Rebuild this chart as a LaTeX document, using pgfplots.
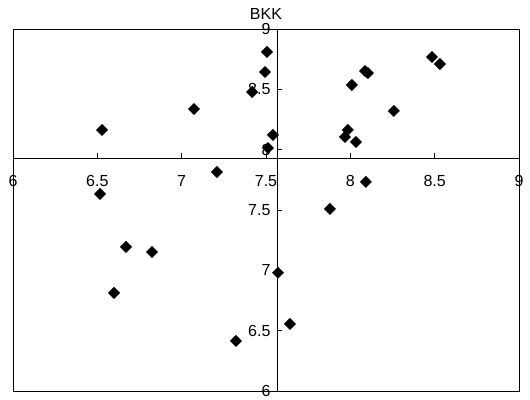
\documentclass[border=0pt]{standalone}
\usepackage{pgfplots}
\usepackage{pgfplotstable}
\pgfplotsset{compat=1.18}
\usepackage{fontspec}
\setmainfont{Liberation Sans}
\pgfplotstableread{
x y
6.528 8.163
7.073 8.337
7.418 8.478
7.494 8.644
7.506 8.810
7.541 8.122
7.512 8.014
7.209 7.815
6.516 7.633
8.009 8.536
8.087 8.652
8.104 8.635
8.484 8.768
8.531 8.710
8.258 8.321
7.985 8.163
7.968 8.105
8.033 8.064
8.092 7.733
7.879 7.509
6.670 7.194
6.824 7.152
6.599 6.813
7.571 6.980
7.642 6.556
7.322 6.415
}\datatable
\begin{document}
\begin{tikzpicture}
\begin{axis}[
  scale only axis, width=506pt, height=362pt,
  axis lines=middle, axis line style={-, line width=0.8pt},
  xmin=-1.565, xmax=1.435, ymin=-1.93, ymax=1.07,
  xtick={-1.565,-1.065,-0.565,-0.065,0.435,0.935,1.435},
  xticklabels={6,6.5,7,7.5,8,8.5,9},
  ytick={-1.93,-1.43,-0.93,-0.43,0.07,0.57,1.07},
  yticklabels={6,6.5,7,7.5,8,8.5,9},
  tick align=inside, major tick length=5pt,
  tick style={black, line width=0.6pt},
  ticklabel style={font=\fontsize{16}{18}\selectfont},
  xticklabel style={anchor=north, yshift=-14pt},
  yticklabel style={anchor=east, xshift=-3pt},
  clip=false,
]
\addplot[only marks, mark=square*, mark size=4pt, mark options={rotate=45, fill=black, draw=black}]
  table[x expr=\thisrow{x}-7.565, y expr=\thisrow{y}-7.93] {\datatable};
\draw[line width=0.8pt] (rel axis cs:0,0) rectangle (rel axis cs:1,1);
\coordinate (sw) at (rel axis cs:0,0);
\coordinate (ne) at (rel axis cs:1,1);
\node[anchor=south, font=\fontsize{16}{18}\selectfont, inner sep=0pt] at ([yshift=9pt]rel axis cs:0.5,1) {BKK};
\end{axis}
\pgfresetboundingbox
\path (sw) ++(-13pt,-8pt) coordinate (a);
\path (ne) ++(11pt,29pt) coordinate (b);
\useasboundingbox (a) rectangle (b);
\end{tikzpicture}
\end{document}
